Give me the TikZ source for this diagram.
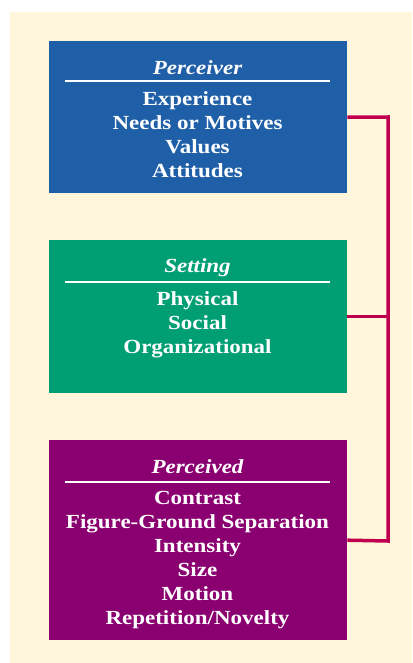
\documentclass[tikz,border=0pt]{standalone}
\usepackage{fontspec}
\setmainfont{Liberation Serif}[FakeStretch=1.15]
\usetikzlibrary{positioning}
\definecolor{cream}{HTML}{FFF6DC}
\definecolor{perceiverblue}{HTML}{1F5FA8}
\definecolor{settinggreen}{HTML}{009E73}
\definecolor{perceivedpurple}{HTML}{8A0070}
\definecolor{linkred}{HTML}{C0004F}
\tikzset{
  panel/.style={anchor=north west, inner sep=0pt, minimum width=298pt},
  heading/.style={text=white, inner sep=0pt,
    font=\fontsize{20}{24}\selectfont\bfseries\itshape},
  items/.style={text=white, inner sep=0pt, anchor=north, align=center,
    font=\fontsize{20}{24}\selectfont\bfseries},
  rule/.style={white, line width=2pt},
  link/.style={draw=linkred, line width=3.5pt}
}
\begin{document}
\begin{tikzpicture}[x=1pt,y=-1pt]
  \useasboundingbox (0,0) rectangle (412,663);
  \fill[cream] (10,12) rectangle (412,663);
  % boxes
  \node[panel, fill=perceiverblue, minimum height=152pt] (perceiver) at (49,41) {};
  \node[panel, fill=settinggreen, minimum height=153pt] (setting) at (49,240) {};
  \node[panel, fill=perceivedpurple, minimum height=200pt] (perceived) at (49,440) {};
  % headings
  \node[heading] (perceiverhead) at (197.5,68) {Perceiver};
  \node[heading] (settinghead) at (197.5,268) {Setting};
  \node[heading] (perceivedhead) at (197.5,467) {Perceived};
  \draw[rule] (65,81) -- (330,81);
  \draw[rule] (65,282) -- (330,282);
  \draw[rule] (65,482) -- (330,482);
  % contents
  \node[items] (perceiverlist) at (197.5,91)
    {Experience\\Needs or Motives\\Values\\Attitudes};
  \node[items] (settinglist) at (197.5,291)
    {Physical\\Social\\Organizational};
  \node[items] (perceivedlist) at (197.5,491)
    {Contrast\\Figure-Ground Separation\\Intensity\\Size\\Motion\\Repetition/Novelty};
  % connectors
  \coordinate (bustop) at (388,117);
  \coordinate (busbottom) at (388,541);
  \draw[link] (perceiver.east) -- (bustop) -- (busbottom) -- (perceived.east);
  \draw[link] (setting.east) -- (setting.east -| bustop);
\end{tikzpicture}
\end{document}
